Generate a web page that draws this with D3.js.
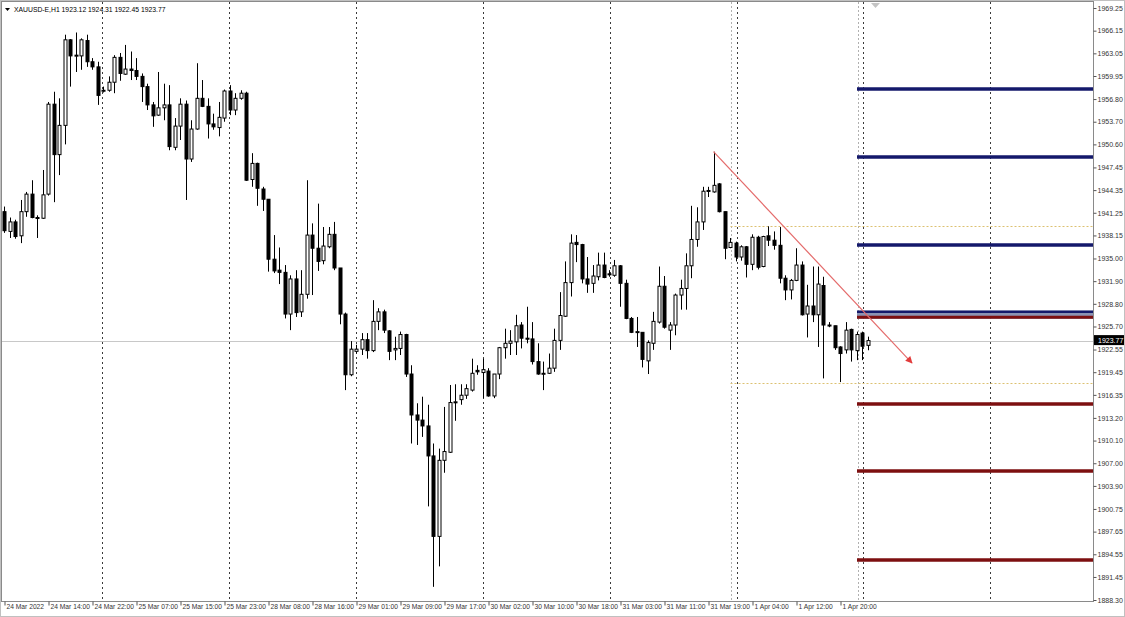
<!DOCTYPE html>
<html>
<head>
<meta charset="utf-8">
<script src="https://cdn.jsdelivr.net/npm/d3@7"></script>
<style>
  body { margin: 0; background: #fff; }
  svg { display: block; font-family: "Liberation Sans", Arial, sans-serif; }
</style>
</head>
<body>
<div id="chart"></div>
<script>
// XAUUSD-E H1, 24 Mar 2022 -> 1 Apr 2022 (one value per hourly bar)
var opens = [1941.4,1938.7,1940.0,1938.1,1941.4,1943.8,1940.6,1940.5,1943.8,1956.1,1949.2,1953.2,1964.9,1962.7,1962.7,1964.8,1961.9,1961.2,1957.9,1958.0,
  1959.1,1962.5,1960.2,1960.9,1960.7,1959.9,1958.5,1956.0,1954.6,1955.6,1956.0,1950.2,1953.1,1956.1,1948.6,1952.7,1956.9,1955.8,1953.4,1952.9,
  1954.2,1957.9,1955.3,1956.9,1957.6,1945.8,1948.0,1944.5,1943.1,1934.9,1933.4,1933.1,1927.4,1932.2,1927.7,1930.1,1938.2,1936.4,1934.7,1936.6,
  1938.3,1933.7,1927.4,1919.1,1922.3,1922.6,1923.9,1922.4,1926.4,1927.7,1925.1,1922.5,1922.7,1924.6,1919.2,1913.6,1912.9,1912.1,1908.0,1897.0,
  1907.4,1908.5,1915.3,1915.7,1916.3,1917.0,1919.7,1919.4,1919.6,1916.2,1919.2,1922.8,1923.4,1923.6,1925.9,1924.1,1924.0,1920.9,1919.2,1919.3,
  1920.0,1923.8,1927.1,1931.7,1937.2,1936.9,1932.2,1931.6,1932.5,1934.1,1932.9,1932.7,1934.0,1931.6,1926.8,1924.9,1924.9,1921.0,1923.4,1926.3,
  1931.2,1925.2,1925.9,1930.0,1930.9,1934.0,1937.6,1940.0,1944.2,1944.1,1945.2,1941.4,1936.5,1937.1,1935.2,1936.6,1934.2,1937.9,1933.9,1938.1,
  1937.5,1936.8,1932.3,1930.7,1932.0,1934.1,1927.4,1928.5,1927.3,1931.3,1925.9,1925.8,1922.9,1922.5,1925.3,1922.4,1924.8,1923.12];
var highs = [1942.1,1940.6,1940.3,1943.0,1944.1,1945.7,1940.9,1947.1,1956.4,1957.8,1956.9,1965.6,1965.0,1965.9,1965.1,1965.6,1962.4,1961.9,1958.5,1959.9,
  1962.8,1963.1,1964.2,1963.3,1962.4,1960.3,1958.9,1956.4,1960.5,1958.9,1958.7,1954.2,1956.9,1956.6,1953.9,1961.7,1959.4,1956.9,1954.8,1956.4,
  1958.1,1958.7,1957.6,1958.0,1957.8,1949.4,1948.1,1944.8,1943.1,1938.2,1936.5,1934.1,1932.7,1933.4,1933.4,1945.7,1939.8,1942.5,1939.3,1939.3,
  1940.0,1933.7,1927.6,1923.7,1923.2,1924.8,1924.8,1929.3,1928.2,1928.0,1925.2,1924.3,1925.0,1924.7,1920.4,1915.2,1916.1,1915.0,1909.7,1909.0,
  1914.7,1917.7,1917.8,1917.8,1917.8,1921.3,1920.4,1921.3,1920.0,1919.2,1922.9,1925.4,1925.2,1927.3,1926.3,1928.4,1926.3,1923.4,1920.9,1922.0,
  1925.4,1930.4,1934.6,1938.3,1938.2,1937.0,1935.2,1934.1,1935.8,1935.8,1933.4,1934.8,1934.1,1932.1,1927.0,1927.0,1924.9,1923.8,1927.7,1933.9,
  1932.6,1926.3,1930.2,1932.1,1935.7,1942.2,1942.0,1944.8,1944.8,1949.6,1945.3,1941.4,1937.8,1937.3,1936.8,1936.7,1938.3,1938.1,1938.1,1939.4,
  1938.7,1939.3,1932.7,1932.2,1936.4,1934.6,1931.4,1933.9,1933.9,1932.5,1926.3,1925.8,1923.0,1926.3,1925.4,1925.0,1925.0,1924.31];
var lows = [1938.5,1937.8,1937.7,1937.1,1940.7,1940.5,1937.8,1940.4,1943.6,1942.7,1946.4,1950.6,1958.5,1960.5,1960.8,1961.2,1960.8,1956.0,1957.7,1957.8,
  1957.6,1959.3,1960.1,1959.4,1959.4,1956.4,1955.3,1953.0,1954.5,1953.9,1949.8,1949.8,1951.2,1943.0,1948.2,1952.6,1955.7,1951.4,1952.6,1951.7,
  1953.7,1954.6,1954.6,1956.7,1945.6,1944.8,1942.2,1941.5,1933.2,1933.0,1931.5,1926.8,1925.2,1927.0,1927.0,1929.5,1930.0,1933.3,1934.2,1936.4,
  1933.4,1926.0,1917.0,1918.9,1922.0,1921.8,1921.3,1922.2,1925.2,1924.8,1921.1,1921.1,1921.8,1918.8,1909.7,1909.5,1910.6,1901.1,1890.1,1892.9,
  1905.7,1908.4,1912.8,1915.0,1915.8,1916.8,1919.1,1915.9,1916.1,1915.9,1918.5,1921.3,1921.8,1921.8,1922.7,1923.4,1920.5,1919.1,1917.0,1919.2,
  1919.5,1922.5,1927.0,1929.8,1934.5,1931.6,1930.3,1930.3,1932.0,1932.3,1932.5,1932.5,1928.4,1926.7,1924.8,1922.9,1920.1,1919.2,1922.5,1926.1,
  1925.4,1922.5,1924.5,1928.0,1928.0,1932.3,1936.6,1938.9,1943.4,1944.0,1941.3,1934.9,1936.4,1934.6,1934.7,1932.4,1933.4,1933.5,1933.8,1936.7,
  1936.2,1931.6,1929.3,1929.4,1931.9,1927.2,1924.2,1926.3,1922.9,1918.6,1925.6,1922.5,1918.1,1922.0,1920.9,1921.1,1921.1,1922.45];
var closes = [1938.8,1940.0,1938.0,1941.4,1943.8,1940.6,1940.5,1943.7,1956.1,1949.2,1953.2,1964.9,1962.7,1962.8,1964.9,1961.9,1961.2,1957.3,1958.0,1959.1,
  1962.5,1960.3,1960.9,1960.7,1959.9,1958.5,1956.0,1954.5,1955.6,1956.0,1950.3,1953.1,1956.1,1948.6,1952.7,1956.9,1955.8,1953.4,1953.0,1954.3,
  1957.9,1955.3,1956.9,1957.6,1945.7,1948.0,1944.6,1943.1,1934.9,1933.3,1933.1,1927.4,1932.2,1927.6,1930.1,1938.2,1936.4,1934.6,1936.7,1938.3,
  1933.7,1927.4,1919.1,1922.6,1922.6,1923.9,1922.4,1926.4,1927.7,1925.2,1922.3,1922.7,1924.6,1919.2,1913.6,1912.9,1912.1,1908.0,1897.0,1907.4,
  1908.6,1915.3,1915.4,1916.3,1917.2,1919.3,1919.5,1919.8,1916.2,1919.2,1922.8,1923.4,1923.7,1925.8,1924.1,1924.0,1920.9,1919.2,1919.3,1920.0,
  1923.8,1927.2,1931.7,1937.1,1936.9,1932.2,1931.5,1932.6,1934.1,1932.4,1932.8,1934.0,1931.6,1926.8,1924.9,1925.0,1921.2,1923.5,1926.4,1931.2,
  1925.6,1925.9,1930.0,1930.9,1934.0,1937.6,1940.0,1944.2,1944.3,1945.0,1941.4,1936.4,1937.2,1935.2,1936.6,1934.2,1937.9,1933.8,1938.0,1937.5,
  1936.8,1932.3,1930.7,1932.0,1934.1,1927.3,1928.5,1927.3,1931.5,1925.9,1925.8,1922.8,1922.0,1925.2,1922.5,1924.6,1923.0,1923.77];

// time labels, one every 8 bars
var xTickLabels = ["24 Mar 2022","24 Mar 14:00","24 Mar 22:00","25 Mar 07:00","25 Mar 15:00","25 Mar 23:00",
  "28 Mar 08:00","28 Mar 16:00","29 Mar 01:00","29 Mar 09:00","29 Mar 17:00","30 Mar 02:00","30 Mar 10:00",
  "30 Mar 18:00","31 Mar 03:00","31 Mar 11:00","31 Mar 19:00","1 Apr 04:00","1 Apr 12:00","1 Apr 20:00"];
var yTicks = [1969.25,1966.15,1963.05,1959.95,1956.80,1953.70,1950.60,1947.45,1944.35,1941.25,1938.15,1935.00,1931.90,
  1928.80,1925.70,1922.55,1919.45,1916.35,1913.20,1910.10,1907.00,1903.90,1900.75,1897.65,1894.55,1891.45,1888.30];

var symbol = "XAUUSD-E,H1";
var lastPrice = 1923.77;
var blueLevels = [1958.17, 1948.87, 1936.84];
var redLevels = [1915.10, 1905.93, 1893.77];
var zoneTop = 1927.85, zoneBottom = 1926.75;
var rangeLevels = [1939.44, 1917.97];
var rangeStartBar = 132, levelStartBar = 155;
var trendFrom = [129, 1949.6], trendTo = [165.1, 1920.7];

var width = 1125, height = 617;
var plot = { left: 2, top: 2, right: 1093, bottom: 601 };

var svg = d3.select("#chart").append("svg")
    .attr("width", width)
    .attr("height", height);

svg.append("rect").attr("width", width).attr("height", height).attr("fill", "#fff");

var x = d3.scaleLinear().domain([0, 198]).range([4, 1093]);
var y = d3.scaleLinear().domain([1888.30, 1969.25]).range([600, 8]);

var px = function (i) { return Math.round(x(i)) + 0.5; };

// vertical grid (fixed pixel step like the terminal)
var gridX = d3.range(8).map(function (k) { return Math.round(102 + k * 126.9) + 0.5; });
svg.append("g").selectAll("line").data(gridX).join("line")
    .attr("x1", d => d).attr("x2", d => d)
    .attr("y1", plot.top).attr("y2", plot.bottom)
    .attr("stroke", "#3a3a3a").attr("stroke-width", 1)
    .attr("stroke-dasharray", "2,3");

// vertical object lines
svg.append("g").selectAll("line").data([rangeStartBar, levelStartBar]).join("line")
    .attr("x1", d => px(d) + 1).attr("x2", d => px(d) + 1)
    .attr("y1", plot.top).attr("y2", plot.bottom)
    .attr("stroke", "#b0b0b0").attr("stroke-dasharray", "2,2");

// bid line
svg.append("line")
    .attr("x1", plot.left).attr("x2", plot.right)
    .attr("y1", Math.round(y(lastPrice)) + 0.5).attr("y2", Math.round(y(lastPrice)) + 0.5)
    .attr("stroke", "#c8c8c8");

// range lines (dotted)
svg.append("g").selectAll("line").data(rangeLevels).join("line")
    .attr("x1", px(rangeStartBar)).attr("x2", plot.right)
    .attr("y1", d => Math.round(y(d)) + 0.5).attr("y2", d => Math.round(y(d)) + 0.5)
    .attr("stroke", "#dcc170").attr("stroke-dasharray", "2,2");

// candles
var bars = d3.range(opens.length);
var g = svg.append("g");
g.selectAll("line.wick").data(bars).join("line")
    .attr("class", "wick")
    .attr("x1", px).attr("x2", px)
    .attr("y1", i => y(highs[i])).attr("y2", i => y(lows[i]))
    .attr("stroke", "#000").attr("stroke-width", 1);

g.selectAll("rect.body").data(bars).join("rect")
    .attr("class", "body")
    .attr("x", i => px(i) - 1.5)
    .attr("width", 3)
    .attr("y", i => y(Math.max(opens[i], closes[i])))
    .attr("height", i => Math.max(1, Math.abs(y(opens[i]) - y(closes[i]))))
    .attr("fill", i => closes[i] >= opens[i] ? "#fff" : "#000")
    .attr("stroke", "#000").attr("stroke-width", 1);

// level lines
var x0 = px(levelStartBar) - 0.5;
svg.append("rect")
    .attr("x", x0).attr("width", plot.right - x0)
    .attr("y", y(zoneTop)).attr("height", y(zoneBottom) - y(zoneTop))
    .attr("fill", "#8b93b3");
svg.append("line")
    .attr("x1", x0).attr("x2", plot.right)
    .attr("y1", y(zoneTop) + 1).attr("y2", y(zoneTop) + 1)
    .attr("stroke", "#14196b").attr("stroke-width", 2.5);
svg.append("line")
    .attr("x1", x0).attr("x2", plot.right)
    .attr("y1", y(zoneBottom) - 1.5).attr("y2", y(zoneBottom) - 1.5)
    .attr("stroke", "#7d0f10").attr("stroke-width", 3);

svg.append("g").selectAll("line").data(blueLevels).join("line")
    .attr("x1", x0).attr("x2", plot.right)
    .attr("y1", d => y(d)).attr("y2", d => y(d))
    .attr("stroke", "#14196b").attr("stroke-width", 3.5);
svg.append("g").selectAll("line").data(redLevels).join("line")
    .attr("x1", x0).attr("x2", plot.right)
    .attr("y1", d => y(d)).attr("y2", d => y(d))
    .attr("stroke", "#7d0f10").attr("stroke-width", 3.5);

// trend line with arrow
svg.append("defs").append("marker")
    .attr("id", "arrow").attr("viewBox", "0 0 10 10")
    .attr("refX", 9).attr("refY", 5)
    .attr("markerWidth", 9).attr("markerHeight", 7)
    .attr("markerUnits", "userSpaceOnUse")
    .attr("orient", "auto")
    .append("path").attr("d", "M0,0L10,5L0,10z").attr("fill", "#e23b3b");
svg.append("line")
    .attr("x1", x(trendFrom[0])).attr("y1", y(trendFrom[1]))
    .attr("x2", x(trendTo[0])).attr("y2", y(trendTo[1]))
    .attr("stroke", "#e46a6a").attr("stroke-width", 1.2)
    .attr("marker-end", "url(#arrow)");

// frame
svg.append("rect")
    .attr("x", plot.left - 0.5).attr("y", plot.top - 0.5)
    .attr("width", plot.right - plot.left + 1).attr("height", plot.bottom - plot.top + 1)
    .attr("fill", "none").attr("stroke", "#8a8a8a");
svg.append("rect")
    .attr("x", 0.5).attr("y", 0.5).attr("width", width - 1).attr("height", height - 1)
    .attr("fill", "none").attr("stroke", "#c0c0c0");

// shift marker
svg.append("path")
    .attr("d", "M871,3L880,3L875.5,8Z")
    .attr("fill", "#c4c4c4");

// axes
var yAxis = svg.append("g")
    .attr("transform", "translate(" + (plot.right + 0.5) + ",0)")
    .call(d3.axisRight(y).tickValues(yTicks).tickSize(3).tickSizeOuter(0).tickFormat(d3.format(".2f")));
yAxis.select(".domain").remove();
yAxis.selectAll("line").attr("stroke", "#555");
yAxis.selectAll("text").attr("x", 4).attr("fill", "#333").style("font-size", "7px");

var xAxis = svg.append("g")
    .attr("transform", "translate(0," + (plot.bottom + 0.5) + ")")
    .call(d3.axisBottom(x).tickValues(xTickLabels.map(function (d, i) { return i * 8; }))
        .tickSize(4).tickSizeOuter(0).tickFormat(function (d, i) { return xTickLabels[i]; }));
xAxis.select(".domain").remove();
xAxis.selectAll(".tick line").attr("transform", "translate(0.5,0)").attr("stroke", "#555");
xAxis.selectAll("text")
    .attr("text-anchor", "start").attr("x", 2).attr("y", 3)
    .attr("fill", "#333").style("font-size", "6.7px");

// last price tag
var ly = y(lastPrice);
svg.append("rect")
    .attr("x", plot.right + 1).attr("y", ly - 5.5)
    .attr("width", 30).attr("height", 10).attr("fill", "#000");
svg.append("text")
    .attr("x", plot.right + 5).attr("y", ly + 2.5)
    .attr("fill", "#fff").style("font-size", "7px")
    .text(d3.format(".2f")(lastPrice));

// title
svg.append("path").attr("d", "M5,8L10,8L7.5,11Z").attr("fill", "#000");
var last = opens.length - 1;
svg.append("text")
    .attr("x", 14).attr("y", 12)
    .attr("fill", "#000").style("font-size", "6.8px")
    .text(symbol + "  " + [opens[last], highs[last], lows[last], closes[last]].map(d3.format(".2f")).join(" "));
</script>
</body>
</html>
